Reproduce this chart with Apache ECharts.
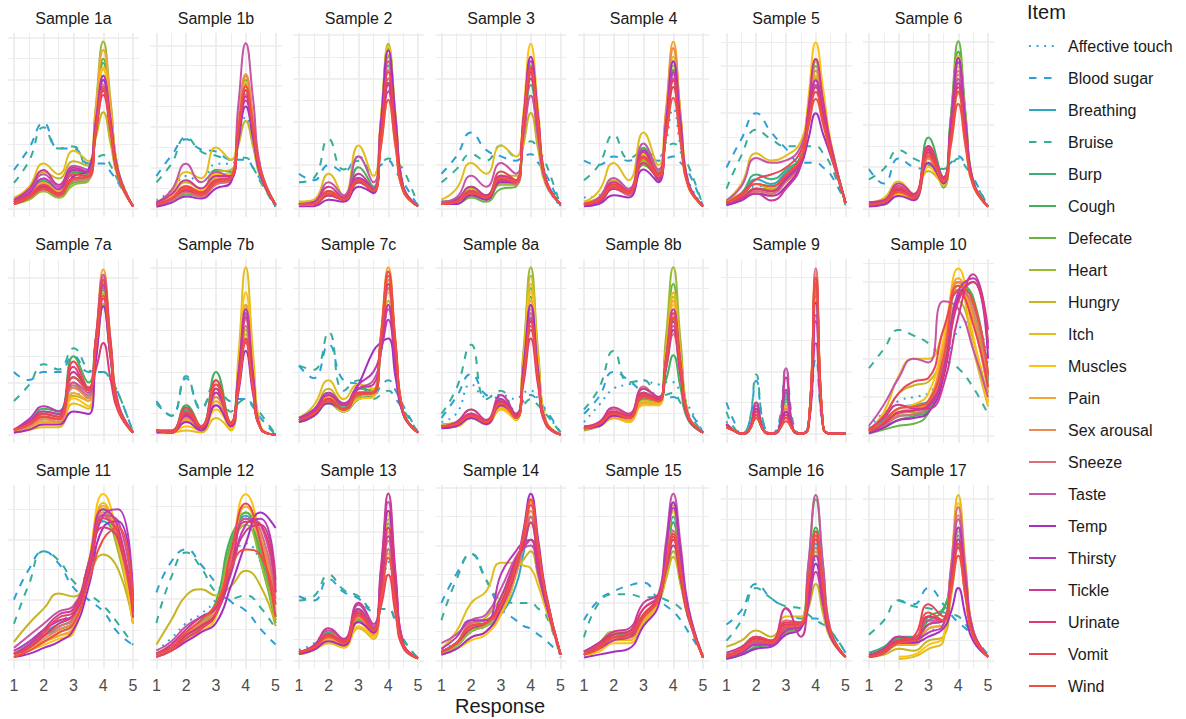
<!DOCTYPE html>
<html><head><meta charset="utf-8">
<script src="https://cdn.jsdelivr.net/npm/echarts@6/dist/echarts.min.js"></script>
<style>html,body{margin:0;padding:0;background:#fff}#c{width:1186px;height:719px}</style>
</head><body><div id="c"></div>
<script>
// ---------- data ----------
const items = ['Affective touch','Blood sugar','Breathing','Bruise','Burp','Cough','Defecate','Heart','Hungry','Itch','Muscles','Pain','Sex arousal','Sneeze','Taste','Temp','Thirsty','Tickle','Urinate','Vomit','Wind'];
const samples = ['Sample 1a','Sample 1b','Sample 2','Sample 3','Sample 4','Sample 5','Sample 6','Sample 7a','Sample 7b','Sample 7c','Sample 8a','Sample 8b','Sample 9','Sample 10','Sample 11','Sample 12','Sample 13','Sample 14','Sample 15','Sample 16','Sample 17'];
const xTicks = [1,2,3,4,5];
// x positions where the curves were read
const responseX = [1,1.5,2,2.5,3,3.5,4,4.5,5];                       // Samples 10, 11, 12
const responseXPeak = [1,1.5,2,2.5,3,3.5,3.75,4,4.25,4.5,5];         // other samples
const responseXFine = [1,1.25,1.5,1.75,2,2.25,2.5,2.75,3,3.25,3.5,3.75,4,4.25,4.5,4.75,5]; // Sample 9

// density curves (one row per item)
const s1a = [
[3,8,14,9,15,14,40,62,41,18,1],[18,28,40,28,28,21,21,21,17,12,1],[3,6,12,8,18,16,39,60,39,16,1],[12,22,38,28,29,19,23,25,20,13,1],
[3,6,10,6,13,14,40,62,41,17,1],[3,7,13,8,17,16,44,68,44,17,1],[2,5,9,6,12,13,44,70,46,18,1],[2,4,8,5,11,13,48,78,50,18,1],
[4,9,17,14,22,20,33,45,30,14,1],[5,10,21,16,27,22,45,65,43,17,1],[3,6,11,7,14,15,42,66,43,17,1],[3,6,12,8,16,15,47,74,48,18,1],
[3,6,11,7,14,14,38,58,38,16,1],[2,5,9,6,13,14,36,56,37,16,1],[3,8,16,10,20,18,39,57,38,16,1],[2,5,10,7,15,18,40,60,40,17,1],
[3,7,14,9,18,17,41,62,41,17,1],[4,9,18,11,19,17,37,55,37,16,1],[2,5,10,6,14,15,35,53,35,15,1],[3,6,11,7,16,15,36,55,37,16,1],[2,5,9,6,14,15,37,56,37,16,1]];
const s1b = [
[4,9,16,13,22,22,34,45,31,16,2],[16,26,34,29,28,24,24,24,20,14,1],[3,6,11,8,16,17,39,58,39,18,2],[13,22,35,28,26,24,25,25,20,13,1],
[2,5,9,7,14,15,40,61,41,18,2],[2,5,10,8,19,18,40,60,40,18,2],[2,4,7,6,12,14,40,63,42,19,2],[2,5,9,7,14,16,42,65,43,19,2],
[3,7,13,10,18,19,31,43,30,15,2],[3,8,18,15,30,24,40,55,37,17,2],[2,6,11,9,17,17,41,62,41,18,2],[2,5,10,8,15,16,43,66,44,19,2],
[2,5,9,7,14,16,42,65,43,19,2],[2,4,8,6,12,14,36,56,38,17,2],[3,9,22,13,18,15,51,81,53,20,2],[1,3,6,5,10,13,33,50,34,16,2],
[2,5,10,8,14,15,35,53,36,17,2],[3,7,14,10,16,16,37,55,37,17,2],[2,5,9,7,13,15,38,58,39,18,2],[2,5,11,8,14,15,38,58,39,18,2],[2,5,10,7,13,15,39,60,40,18,2]];
const s2 = [
[3,3,7,4,12,10,32,55,31,9,1],[16,13,20,17,24,17,20,22,17,12,1],[2,2,7,4,14,8,33,60,34,9,1],[12,14,32,18,22,16,20,23,21,18,1],
[2,2,6,4,13,8,36,66,37,10,1],[2,3,8,5,19,10,39,70,39,10,1],[2,2,6,4,12,7,40,74,41,10,1],[2,2,6,4,12,8,41,76,42,10,1],
[3,3,8,5,14,9,29,50,28,8,1],[3,4,16,6,29,15,40,68,38,10,1],[2,2,7,4,13,8,41,75,42,10,1],[2,2,8,4,14,8,39,71,40,10,1],
[2,2,7,4,13,8,35,64,36,9,1],[2,2,6,4,12,8,33,60,34,9,1],[2,3,12,6,24,12,39,68,38,10,1],[1,1,4,3,10,7,39,73,41,10,1],
[2,2,6,4,14,9,32,57,32,9,1],[2,3,10,5,16,9,31,54,31,9,1],[2,2,6,4,12,8,32,58,33,9,1],[2,2,8,4,13,8,35,63,35,9,1],[2,2,7,4,13,8,28,50,28,8,1]];
const s3 = [
[3,4,9,6,14,14,36,58,35,12,1],[16,24,35,27,24,22,24,25,21,16,1],[3,4,8,5,13,12,37,62,37,13,2],[12,18,25,22,29,24,28,31,27,21,1],
[2,3,6,4,11,11,34,57,34,12,2],[2,3,10,6,15,12,37,62,37,13,2],[2,2,5,3,9,10,38,66,40,13,2],[2,3,6,4,11,11,36,60,36,12,2],
[3,4,9,6,15,15,29,44,27,11,2],[4,9,21,16,29,24,37,52,32,12,2],[2,3,7,5,13,12,44,76,45,14,2],[2,3,8,5,15,12,39,65,39,13,2],
[2,3,7,5,14,12,38,64,39,13,2],[2,3,7,5,13,11,37,62,37,13,2],[3,5,15,10,21,16,33,52,32,12,2],[2,2,6,4,12,12,41,70,42,14,2],
[2,3,8,5,13,12,40,68,41,13,2],[2,4,10,6,15,13,36,60,36,13,2],[2,3,7,5,13,12,38,63,38,13,2],[2,3,8,5,17,13,39,65,39,13,2],[2,3,7,5,14,12,38,64,39,13,2]];
const s4 = [
[5,6,12,9,20,17,30,46,28,13,1],[22,20,24,22,24,22,23,24,21,17,1],[2,4,10,7,22,15,36,60,34,11,1],[13,20,34,23,26,24,27,30,26,20,1],
[2,4,11,8,24,16,37,62,35,11,1],[2,4,12,8,28,17,39,64,36,11,1],[2,3,9,7,20,14,40,68,39,12,1],[2,3,10,7,22,15,39,66,38,12,1],
[3,5,13,9,24,16,34,56,32,11,1],[3,8,21,13,35,20,43,70,40,12,1],[2,4,12,8,25,16,43,74,42,12,1],[2,4,11,8,26,16,45,77,43,12,1],
[2,4,10,7,24,15,43,74,42,12,1],[2,3,9,6,21,14,37,62,35,11,1],[2,5,14,9,30,18,37,60,34,11,1],[1,2,6,5,18,12,39,68,39,12,1],
[2,4,10,7,27,13,37,63,36,11,1],[2,4,12,8,26,16,36,59,34,11,1],[2,3,9,7,21,14,34,56,32,11,1],[2,4,11,8,24,16,36,59,34,11,1],[2,4,10,7,23,15,32,51,30,10,1]];
const s5 = [
[2,5,9,9,14,20,38,55,41,26,2],[17,29,40,32,25,19,19,19,17,14,2],[2,6,12,10,15,21,37,52,39,25,2],[8,22,33,29,26,26,26,26,23,18,1],
[2,6,14,12,16,22,43,62,45,27,2],[2,5,10,9,14,22,43,63,45,27,2],[1,4,8,8,12,20,41,60,43,26,2],[2,4,8,7,12,21,40,58,42,26,2],
[3,6,10,8,11,18,37,55,40,25,2],[3,10,23,20,22,28,42,56,41,25,2],[2,4,6,5,9,20,46,70,50,28,2],[2,4,8,7,12,20,42,62,45,27,2],
[2,4,7,6,11,19,40,58,42,26,2],[2,4,7,6,11,19,37,54,40,25,2],[3,9,21,19,20,26,39,52,39,25,2],[1,3,6,5,9,18,29,40,31,22,2],
[2,4,8,7,12,20,38,54,40,25,2],[2,4,6,3,8,18,42,63,45,27,2],[2,4,8,7,13,20,36,51,38,24,2],[2,6,12,14,17,24,37,49,37,24,2],[2,5,10,9,14,21,34,46,35,23,2]];
const s6 = [
[3,4,9,6,20,12,34,58,34,12,1],[19,12,24,20,19,19,22,25,21,15,1],[2,3,9,6,26,13,36,62,36,12,1],[14,19,28,24,21,19,21,24,20,14,1],
[2,3,8,5,30,14,42,72,41,13,1],[2,3,9,6,34,15,44,75,43,13,1],[2,2,7,4,24,10,44,80,45,13,1],[2,3,7,5,22,12,40,70,40,13,1],
[3,4,10,6,18,12,32,55,32,11,1],[3,5,13,7,22,13,35,60,35,12,1],[2,3,7,5,20,11,41,73,42,13,1],[2,3,8,5,22,12,39,68,39,13,1],
[2,3,8,5,24,13,37,64,37,12,1],[2,3,8,5,26,14,39,66,38,12,1],[3,4,11,6,28,15,37,62,36,12,1],[1,2,6,4,22,12,41,72,41,13,1],
[2,3,9,6,28,14,41,70,40,13,1],[3,4,12,7,30,15,36,60,35,12,1],[2,3,9,6,27,14,35,58,34,12,1],[2,3,10,6,29,14,34,56,33,12,1],[2,3,8,5,25,13,30,50,29,11,1]];
const s7a = [
[2,4,6,6,16,14,33,55,32,11,1],[24,21,24,24,30,24,24,24,21,16,1],[2,5,8,7,18,15,34,56,32,11,1],[13,19,27,25,33,25,24,24,21,16,1],
[2,5,9,8,22,17,36,58,33,11,1],[2,5,10,9,30,20,36,56,32,11,1],[1,3,5,5,20,14,30,49,29,10,1],[1,3,6,6,24,17,32,50,29,10,1],
[2,4,7,6,15,13,32,54,31,11,1],[1,2,3,3,12,10,33,57,33,11,1],[1,2,4,4,14,11,34,60,35,12,1],[2,3,5,5,16,13,37,63,36,12,1],
[2,3,6,5,18,14,36,60,35,12,1],[2,4,7,6,19,15,35,58,33,11,1],[2,4,8,7,20,16,37,61,35,12,1],[1,2,4,4,9,8,28,49,29,10,1],
[2,6,11,9,22,17,35,57,33,11,1],[2,5,9,8,24,18,33,52,30,10,1],[2,4,7,6,26,18,25,35,21,9,1],[2,4,8,7,28,18,37,59,34,11,1],[2,4,7,6,22,17,33,53,31,10,1]];
const s7b = [
[2,1,10,4,18,6,26,52,25,3,0],[16,9,27,12,25,16,17,17,13,8,0],[2,1,11,4,22,5,28,58,27,3,0],[15,9,28,13,22,11,15,17,14,10,0],
[2,1,12,3,26,5,29,60,28,3,0],[2,2,14,4,30,5,30,62,29,3,0],[2,1,9,3,20,4,27,57,27,3,0],[2,1,8,3,18,4,24,50,24,3,0],
[2,1,6,2,14,3,23,48,23,3,0],[1,1,2,1,8,2,37,80,38,4,0],[1,1,4,2,12,3,32,68,32,3,0],[2,1,7,3,16,4,30,62,29,3,0],
[2,1,8,3,18,4,26,55,26,3,0],[2,1,9,3,20,4,25,52,24,3,0],[2,1,10,4,22,5,28,58,27,3,0],[1,1,6,2,14,4,20,40,19,3,0],
[2,1,9,3,20,5,29,60,28,3,0],[2,1,11,4,24,5,27,56,26,3,0],[2,1,10,3,22,5,22,44,21,3,0],[2,2,13,4,26,6,23,46,22,3,0],[2,1,11,4,24,5,22,45,21,3,0]];
const s7c = [
[6,9,16,12,18,20,38,60,34,10,1],[33,27,43,26,24,19,23,26,21,14,1],[6,9,15,11,17,19,39,62,35,10,1],[33,31,49,21,26,17,19,21,17,12,1],
[7,10,17,12,20,20,43,70,39,11,1],[7,10,18,13,22,21,44,72,40,11,1],[6,9,15,11,17,19,45,74,41,11,1],[6,9,16,12,18,20,46,76,42,11,1],
[8,12,22,15,20,21,40,64,36,10,1],[8,14,26,17,24,22,43,68,38,10,1],[7,10,16,11,17,18,46,78,43,11,1],[7,11,18,12,19,19,48,80,44,11,1],
[7,10,17,12,19,20,45,74,41,11,1],[7,10,16,12,19,20,43,70,39,11,1],[8,11,19,14,22,26,40,60,34,10,1],[6,9,15,12,24,40,44,46,27,10,1],
[8,12,20,15,24,30,40,55,32,10,1],[7,11,19,14,22,24,41,62,35,10,1],[7,10,17,12,20,20,44,72,40,11,1],[7,10,17,12,20,20,47,78,43,11,1],[7,10,16,12,19,20,46,76,42,11,1]];
const s8a = [
[6,10,24,18,19,17,20,21,17,11,1],[8,18,29,19,17,12,16,19,16,12,1],[4,5,9,6,14,8,29,58,29,6,0],[10,22,43,17,21,10,14,17,14,10,1],
[4,5,9,6,15,8,31,62,30,6,0],[4,5,10,6,16,8,33,66,32,6,0],[4,4,8,5,13,7,34,70,34,6,0],[3,4,8,5,12,7,39,80,39,7,0],
[5,6,12,7,15,9,38,76,37,7,0],[4,5,9,6,13,8,36,72,35,7,0],[4,4,8,5,12,7,33,68,33,6,0],[4,5,9,6,14,8,32,64,31,6,0],
[4,5,9,6,14,8,30,60,29,6,0],[4,5,10,6,15,8,29,58,28,6,0],[4,5,10,6,16,9,29,56,28,6,0],[3,4,8,5,14,9,32,62,30,6,0],
[4,5,10,6,17,9,28,54,27,6,0],[4,6,12,7,19,10,27,50,25,5,0],[4,5,10,6,16,9,24,46,23,5,0],[4,5,9,6,15,8,28,55,27,6,0],[4,5,9,6,15,8,27,52,26,6,0]];
const s8b = [
[6,14,22,24,26,24,25,25,20,14,1],[10,18,30,26,20,16,17,18,15,12,1],[3,5,10,9,19,17,34,55,31,8,1],[12,22,40,25,26,18,19,20,15,10,1],
[3,5,10,8,20,16,31,50,28,8,1],[3,5,11,9,22,18,26,38,22,7,1],[3,4,9,7,17,15,42,72,40,9,1],[2,4,8,6,15,14,46,80,44,10,1],
[3,5,10,8,16,15,39,66,37,9,1],[3,4,9,7,16,15,40,68,38,9,1],[3,4,8,6,14,14,37,62,35,9,1],[3,4,8,7,15,15,38,64,36,9,1],
[3,5,10,8,18,16,35,58,33,9,1],[3,5,12,9,23,17,31,48,27,8,1],[3,5,11,8,20,16,32,52,29,8,1],[3,4,9,8,18,17,35,56,32,9,1],
[3,5,10,8,18,16,36,60,34,9,1],[4,6,13,10,22,18,32,50,28,8,1],[3,5,11,9,20,17,34,54,30,8,1],[3,5,10,8,19,16,35,58,33,9,1],[3,5,10,8,18,16,34,56,32,9,1]];
const s9 = [
[4,1,0,1,8,1,0,1,10,1,0,2,45,2,0,0,0],[10,4,0,3,17,3,0,3,21,3,0,3,24,2,0,0,0],[3,1,0,1,8,1,0,1,12,1,0,2,44,2,0,0,0],
[7,2,0,3,19,3,0,2,13,2,0,3,50,2,0,0,0],[2,1,0,1,7,1,0,1,13,1,0,2,46,2,0,0,0],[3,1,0,1,8,1,0,1,11,1,0,2,47,2,0,0,0],
[2,1,0,1,6,1,0,1,9,1,0,2,49,2,0,0,0],[2,1,0,1,6,1,0,1,8,1,0,2,50,2,0,0,0],[3,1,0,1,7,1,0,1,9,1,0,2,48,2,0,0,0],
[2,1,0,1,5,1,0,1,7,1,0,2,51,2,0,0,0],[2,1,0,1,5,1,0,1,6,1,0,2,52,2,0,0,0],[2,1,0,1,6,1,0,1,9,1,0,2,50,2,0,0,0],
[3,1,0,1,7,1,0,1,8,1,0,2,49,2,0,0,0],[2,1,0,1,6,1,0,1,7,1,0,2,53,2,0,0,0],[3,1,0,1,9,1,0,1,21,1,0,2,38,2,0,0,0],
[3,1,0,1,5,1,0,1,7,1,0,2,42,2,0,0,0],[3,1,0,1,8,1,0,1,14,1,0,2,36,2,0,0,0],[3,1,0,1,10,1,0,1,18,1,0,2,29,2,0,0,0],
[2,1,0,1,7,1,0,1,6,1,0,2,48,2,0,0,0],[2,1,0,1,6,1,0,1,5,1,0,2,50,2,0,0,0],[2,1,0,1,5,1,0,1,4,1,0,2,48,2,0,0,0]];
const s10 = [
[4,12,18,20,22,35,55,60,35],null,[3,8,14,16,18,40,75,62,30],[35,45,55,52,48,40,35,25,11],
[2,5,10,11,14,42,80,70,28],[1,4,8,10,13,36,80,72,30],[1,3,5,6,12,38,78,65,25],[2,6,12,12,16,44,80,60,22],
[3,10,22,26,28,45,70,50,18],[3,12,31,40,40,55,78,45,15],[2,6,14,16,22,50,87,52,17],[2,6,12,14,18,46,82,60,22],
[2,5,11,13,17,43,80,64,26],[2,5,10,11,15,38,76,68,30],[5,16,30,40,38,70,66,45,20],[1,4,8,9,12,30,72,80,40],
[2,6,12,13,15,34,75,82,45],[3,9,16,14,14,26,62,84,55],[2,6,12,13,16,32,70,80,48],[3,10,22,28,30,55,75,58,25],[2,7,14,15,18,40,78,70,32]];
const s11 = [
[3,6,10,13,16,32,46,40,15],[20,30,36,32,24,20,16,9,5],[2,5,9,12,15,30,46,38,14],[12,25,36,33,26,22,18,12,5],
[2,5,8,11,14,30,48,40,15],[2,4,8,10,13,30,50,40,14],[1,3,6,9,12,28,50,42,16],[2,4,8,11,14,32,48,36,12],
[6,12,17,22,21,28,35,30,12],[2,4,6,8,10,30,52,38,12],[1,3,5,7,9,32,55,40,12],[1,3,6,8,11,30,51,42,15],
[2,4,7,10,13,30,49,40,15],[2,4,8,11,14,31,48,40,16],[4,8,12,16,18,30,48,46,18],[1,2,4,6,10,24,44,46,20],
[3,6,10,13,15,28,48,50,20],[2,5,10,15,17,32,50,44,16],[2,4,8,12,15,30,44,40,16],[2,4,9,14,16,30,47,42,14],[1,3,6,9,12,26,40,44,18]];
const s12 = [
[3,7,12,15,20,32,38,32,20],[22,32,36,31,25,19,16,10,5],[2,4,8,12,17,36,47,36,15],[12,27,35,30,22,20,21,17,10],
[2,4,8,12,18,38,48,34,13],[2,4,9,13,19,40,46,32,12],[1,3,7,11,17,38,48,36,14],[2,4,8,12,17,36,44,32,13],
[5,13,21,23,21,24,29,24,11],[2,4,7,10,15,34,50,38,14],[1,3,6,9,14,34,54,40,14],[2,4,8,11,16,34,46,38,16],
[2,5,9,12,17,34,46,40,18],[2,4,8,11,15,32,46,42,20],[3,6,11,14,17,30,46,44,22],[1,3,6,9,12,24,38,48,43],
[2,4,8,11,15,28,44,46,26],[2,5,10,14,17,30,42,44,24],[2,4,8,11,15,30,45,44,22],[1,3,7,10,15,35,51,38,14],[2,4,9,13,18,30,36,34,18]];
const s13 = [
[5,8,14,10,18,14,27,46,24,7,1],[30,28,38,32,29,23,24,24,18,10,1],[4,6,13,9,20,13,30,52,27,7,1],[28,30,40,33,30,24,24,24,18,10,1],
[4,6,12,8,22,14,32,56,29,7,1],[4,6,13,9,24,15,34,60,31,7,1],[3,5,10,7,19,12,35,64,33,7,1],[3,5,10,7,18,12,36,66,34,7,1],
[4,7,14,9,20,13,29,50,26,6,1],[3,5,8,6,15,10,33,62,32,7,1],[3,5,9,6,16,11,36,68,35,7,1],[3,5,10,7,18,12,33,60,31,7,1],
[4,6,11,8,20,13,32,56,29,7,1],[4,6,12,8,21,14,30,52,27,7,1],[4,7,14,10,26,16,41,74,38,8,1],[3,5,9,7,18,13,38,70,36,8,1],
[4,6,12,9,24,15,33,58,30,7,1],[4,7,15,10,27,17,43,78,40,8,1],[4,6,12,8,22,14,35,62,32,7,1],[4,6,12,9,23,15,25,40,21,6,1],[4,6,11,8,21,14,28,48,25,7,1]];
const s14 = [
[4,6,10,12,18,30,41,52,37,22,2],[20,30,37,28,18,14,12,11,9,7,2],[3,5,10,12,16,26,37,48,35,22,2],[14,28,37,28,21,20,20,20,18,16,1],
[3,6,12,13,18,30,40,50,36,22,2],[3,6,13,14,20,32,40,50,36,22,2],[2,5,11,12,17,30,43,56,40,23,2],[2,5,10,12,16,30,42,55,39,23,2],
[3,6,12,15,22,32,35,38,29,20,2],[4,10,20,24,34,34,33,32,26,18,2],[2,4,7,9,16,30,43,56,40,23,2],[2,4,8,10,17,31,43,55,39,23,2],
[3,6,12,13,18,30,41,52,38,23,2],[3,6,13,14,19,31,40,50,36,22,2],[6,9,14,16,25,36,39,40,30,20,2],[2,4,8,10,18,32,45,58,42,24,2],
[4,8,14,14,30,38,41,42,31,20,2],[3,6,12,13,22,35,39,42,32,21,2],[3,6,11,13,20,34,40,48,35,22,2],[3,6,12,13,19,32,43,54,39,23,2],[3,6,12,13,19,33,44,56,40,23,2]];
const s15 = [
[2,4,7,8,14,22,34,46,32,17,1],[14,21,24,26,27,21,19,17,14,10,2],[2,4,8,9,15,22,35,48,33,17,1],[8,20,23,23,22,22,21,20,18,15,1],
[3,5,9,9,16,22,36,50,34,17,1],[3,6,10,10,16,21,35,48,33,17,1],[3,5,9,9,15,21,37,52,36,18,1],[3,6,10,10,15,21,29,38,27,15,1],
[3,6,10,10,14,20,28,36,26,15,1],[2,4,7,7,13,21,38,54,37,18,1],[2,3,6,6,12,20,37,52,36,18,1],[2,4,7,8,14,21,33,44,31,16,1],
[2,4,8,8,15,21,32,42,29,16,1],[2,5,8,9,16,22,34,45,32,17,1],[3,6,9,10,18,23,41,58,40,19,1],[1,2,3,4,12,19,38,55,37,18,1],
[2,4,7,8,15,22,38,53,36,18,1],[3,6,10,11,20,23,31,40,28,15,1],[2,5,9,10,18,22,32,42,29,16,1],[2,5,8,9,16,22,32,43,30,16,1],[2,4,8,8,15,21,33,44,31,16,1]];
const s16 = [
[3,6,11,10,17,18,32,50,30,13,2],[18,25,38,31,26,21,21,21,19,15,4],[2,5,9,9,16,18,36,58,34,13,2],[10,20,36,31,27,26,23,20,18,15,4],
[1,4,9,9,16,18,38,62,36,13,2],[1,3,7,8,14,17,40,66,39,14,2],[2,4,8,8,14,17,47,80,46,15,2],[2,4,9,9,15,17,34,54,32,13,2],
[7,10,15,12,18,18,26,38,23,11,2],[2,5,10,10,22,22,37,56,33,13,2],[2,4,9,9,16,18,38,62,37,14,2],[2,5,11,10,17,18,39,64,38,14,2],
[2,5,10,9,18,19,38,60,35,13,2],[2,5,9,9,20,19,36,56,33,13,2],[2,4,9,8,16,17,48,82,47,15,2],[1,3,6,7,13,16,30,48,29,12,2],
[2,4,8,8,15,17,33,52,31,12,2],[4,7,12,10,26,12,27,44,27,12,2],[2,5,11,10,18,18,37,60,35,13,2],[3,6,12,10,19,19,40,64,38,14,2],[2,5,10,9,17,18,38,62,37,14,2]];
const s17 = [
[null,null,8,9,14,20,38,60,36,14,2],[null,null,30,28,36,28,23,19,16,12,3],[2,5,11,10,20,20,39,62,37,14,2],[13,20,30,27,26,24,23,22,18,12,2],
[4,7,12,12,22,26,42,64,38,14,2],[3,6,11,11,20,25,43,66,39,14,2],[2,4,9,9,18,20,38,60,36,14,2],[2,4,8,8,16,18,36,57,34,13,2],
[2,3,6,5,10,12,31,52,31,12,2],[null,null,1,2,6,10,45,82,47,15,2],[null,null,2,3,8,12,44,78,45,15,2],[2,4,8,8,16,18,39,64,38,14,2],
[2,4,9,9,18,20,44,72,42,15,2],[2,4,10,10,22,20,46,76,44,15,2],[2,5,12,11,20,20,43,70,41,15,2],[2,4,9,9,12,16,24,36,22,10,2],
[2,4,9,10,14,18,40,66,39,14,2],[3,6,12,11,18,20,38,60,36,14,2],[2,4,10,10,22,20,36,56,33,13,2],[2,5,10,12,28,22,38,58,34,13,2],[2,4,9,10,24,20,34,52,31,12,2]];

// ---------- styles ----------
const palette = ['#29A6DF','#2C9FD6','#33A7C2','#35AE99','#3DB07A','#45B05A','#6AB445','#98BB33','#C5B523','#E2BD1C','#FDC212','#F6A531','#EB8A57','#DA6E7A','#C755A6','#A62FC2','#B83AB6','#CB3A96','#DE3A72','#EA4456','#F0503F'];
const DASHED = [7.5, 7.5], DOTTED = [1.9, 5.7];
const lineTypes = items.map(n => n === 'Affective touch' ? DOTTED : (n === 'Blood sugar' || n === 'Bruise') ? DASHED : 'solid');
const sampleCurves = [s1a,s1b,s2,s3,s4,s5,s6,s7a,s7b,s7c,s8a,s8b,s9,s10,s11,s12,s13,s14,s15,s16,s17];
const broadSamples = ['Sample 10','Sample 11','Sample 12'];
const sampleX = samples.map(s => s === 'Sample 9' ? responseXFine : (broadSamples.indexOf(s) >= 0 ? responseX : responseXPeak));

const FONT = "'Liberation Sans', Arial, Helvetica, sans-serif";
const T = 'rgba(0,0,0,0)', GRIDC = '#EBEBEB';
const grid = [], xAxis = [], yAxis = [], series = [], graphic = [];
const rowTops = [33, 259, 485], PW = 131, PH = 184;

samples.forEach((name, p) => {
  const col = p % 7, row = Math.floor(p / 7);
  const left = 8 + 142.5 * col, top = rowTops[row];
  grid.push({left: left, top: top, width: PW, height: PH, containLabel: false});
  const curves = sampleCurves[p];
  let M = 0;
  curves.forEach(c => { if (c) c.forEach(v => { if (v != null && v > M) M = v; }); });
  const ymin = -Math.round(0.05 * M);
  let ymax = Math.ceil(1.05 * M); if (ymax % 10 === 0) ymax += 1;
  const xMaj = new Array(10).fill(T); xMaj[2] = GRIDC;
  const xMin = new Array(10).fill(T); xMin[7] = GRIDC;
  const yMaj = new Array(20).fill(T); yMaj[((-ymin) % 20 + 20) % 20] = GRIDC;
  const yMin = new Array(20).fill(T); yMin[((10 - ymin) % 20 + 20) % 20] = GRIDC;
  const common = {type: 'value', gridIndex: p, axisLine: {show: false}, axisTick: {show: false}, splitArea: {show: false}};
  xAxis.push(Object.assign({}, common, {position: 'bottom', min: 0.8, max: 5.2, interval: 0.1,
    axisLabel: {show: row === 2, color: '#4D4D4D', fontSize: 16, fontFamily: FONT, margin: 8,
      formatter: v => { const r = Math.round(v); return (Math.abs(v - r) < 1e-6 && xTicks.indexOf(r) >= 0) ? String(r) : ''; }},
    splitLine: {show: true, lineStyle: {color: xMaj, width: 1.7}}}));
  xAxis.push(Object.assign({}, common, {position: 'top', min: 0.8, max: 5.2, interval: 0.1,
    axisLabel: {show: false}, splitLine: {show: true, lineStyle: {color: xMin, width: 0.9}}}));
  yAxis.push(Object.assign({}, common, {position: 'left', min: ymin, max: ymax, interval: 1,
    axisLabel: {show: false}, splitLine: {show: true, lineStyle: {color: yMaj, width: 1.7}}}));
  yAxis.push(Object.assign({}, common, {position: 'right', min: ymin, max: ymax, interval: 1,
    axisLabel: {show: false}, splitLine: {show: true, lineStyle: {color: yMin, width: 0.9}}}));
  const xs = sampleX[p];
  curves.forEach((c, k) => {
    if (!c) return;
    const data = [];
    c.forEach((v, j) => { if (v != null) data.push([xs[j], v]); });
    series.push({type: 'line', name: items[k], xAxisIndex: 2 * p, yAxisIndex: 2 * p, data: data,
      smooth: 0.5, symbol: 'none', showSymbol: false, silent: true, animation: false, z: 3,
      lineStyle: {color: palette[k], width: 2, type: lineTypes[k]}, itemStyle: {color: palette[k]},
      emphasis: {disabled: true}});
  });
  graphic.push({type: 'text', x: left + PW / 2, y: top - 15, silent: true,
    style: {text: name, fill: '#1A1A1A', fontSize: 16, fontFamily: FONT, align: 'center', verticalAlign: 'middle', textAlign: 'center', textVerticalAlign: 'middle'}});
});
graphic.push({type: 'text', x: 500, y: 706, silent: true,
  style: {text: 'Response', fill: '#1A1A1A', fontSize: 20, fontFamily: FONT, align: 'center', verticalAlign: 'middle', textAlign: 'center', textVerticalAlign: 'middle'}});
graphic.push({type: 'text', x: 1027, y: 12, silent: true,
  style: {text: 'Item', fill: '#1A1A1A', fontSize: 20, fontFamily: FONT, align: 'left', verticalAlign: 'middle', textAlign: 'left', textVerticalAlign: 'middle'}});

const chart = echarts.init(document.getElementById('c'), null, {renderer: 'svg', width: 1186, height: 719});
chart.setOption({
  animation: false,
  backgroundColor: '#fff',
  textStyle: {fontFamily: FONT},
  grid: grid, xAxis: xAxis, yAxis: yAxis, series: series, graphic: graphic,
  legend: {data: items, orient: 'vertical', left: 1028, top: 38, padding: 0, itemWidth: 27, itemHeight: 16, itemGap: 16,
    selectedMode: false, itemStyle: {opacity: 0, color: 'rgba(0,0,0,0)', borderWidth: 0},
    textStyle: {fontSize: 16, fontFamily: FONT, color: '#1A1A1A', padding: [0, 0, 0, 7]}}
});
</script>
</body></html>
